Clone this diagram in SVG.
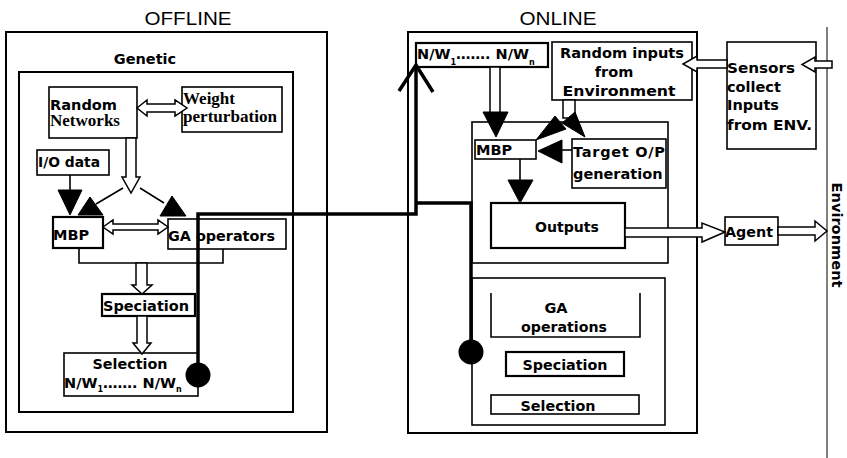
<svg xmlns="http://www.w3.org/2000/svg" width="847" height="458" viewBox="0 0 847 458">
<style>
.box{fill:#fff;stroke:#000;stroke-width:1.6}
.bx2{fill:#fff;stroke:#000;stroke-width:2.2}
.frame{fill:none;stroke:#000;stroke-width:2}
.t{font-family:"DejaVu Sans",Verdana,sans-serif;font-weight:bold;font-size:14.5px;fill:#000}
.tc{text-anchor:middle}
.ser{font-family:"Liberation Serif","Times New Roman",serif;font-weight:bold;font-size:16px;fill:#000}
.title{font-family:"Liberation Sans",Arial,sans-serif;font-size:19px;fill:#000;text-anchor:middle}
.sub{font-size:8px}
.hollow{fill:#fff;stroke:#000;stroke-width:1.5;stroke-linejoin:miter}
.blk{fill:#000;stroke:#000;stroke-width:1}
.ln{fill:none;stroke:#000;stroke-width:1.6}
.thick{fill:none;stroke:#000;stroke-width:3.5}
</style>
<text class="title" x="188" y="25" textLength="87" lengthAdjust="spacingAndGlyphs">OFFLINE</text>
<text class="title" x="558" y="25" textLength="77" lengthAdjust="spacingAndGlyphs">ONLINE</text>

<g id="offline">
<rect class="frame" x="6" y="32" width="321" height="400"/>
</g>
<g id="genetic">
<rect class="frame" x="19" y="72" width="274" height="340"/>
<text class="t tc" x="145" y="64">Genetic</text>
</g>
<g id="random-networks">
<rect class="box" x="49" y="87" width="88" height="51"/>
<text class="t" x="50" y="110" textLength="67" lengthAdjust="spacingAndGlyphs">Random</text>
<text class="ser" x="50" y="126" textLength="70" lengthAdjust="spacingAndGlyphs">Networks</text>
</g>
<g id="weight-perturbation">
<rect class="box" x="182" y="87" width="100" height="45"/>
<text class="ser" x="183" y="104" textLength="52" lengthAdjust="spacingAndGlyphs">Weight</text>
<text class="ser" x="183" y="122" textLength="94" lengthAdjust="spacingAndGlyphs">perturbation</text>
</g>
<g id="io-data">
<rect class="box" x="37" y="150" width="72" height="25"/>
<text class="t" x="38" y="167" textLength="62" lengthAdjust="spacingAndGlyphs">I/O data</text>
</g>
<g id="mbp-offline">
<rect class="bx2" x="53" y="217" width="50" height="31"/>
<text class="t" x="53" y="240">MBP</text>
</g>
<g id="ga-operators">
<rect class="box" x="168" y="219" width="118" height="30"/>
<text class="t" x="168" y="241" textLength="107" lengthAdjust="spacingAndGlyphs">GA operators</text>
</g>
<g id="speciation-offline">
<rect class="bx2" x="102" y="294" width="93" height="22"/>
<text class="t" x="103" y="311" textLength="86" lengthAdjust="spacingAndGlyphs">Speciation</text>
</g>
<g id="selection-offline">
<rect class="box" x="64" y="353" width="134" height="43"/>
<text class="t tc" x="130" y="369" textLength="75" lengthAdjust="spacingAndGlyphs">Selection</text>
<text class="t" x="64" y="388">N/W<tspan class="sub" dy="4">1</tspan><tspan dy="-4">……. N/W</tspan><tspan class="sub" dy="4">n</tspan></text>
</g>

<g id="online">
<rect class="frame" x="408" y="32" width="289" height="401"/>
</g>
<g id="online-upper">
<rect class="box" x="472" y="122" width="196" height="141"/>
</g>
<g id="online-lower">
<rect class="box" x="472" y="278" width="193" height="147"/>
</g>
<g id="nw-online">
<rect class="bx2" x="416" y="43" width="132" height="24"/>
<text class="t" x="417" y="59">N/W<tspan class="sub" dy="6">1</tspan><tspan dy="-6">……. N/W</tspan><tspan class="sub" dy="6">n</tspan></text>
</g>
<g id="random-inputs">
<rect class="box" x="552" y="42" width="140" height="58"/>
<text class="t tc" x="622" y="58" textLength="124" lengthAdjust="spacingAndGlyphs">Random inputs</text>
<text class="t tc" x="614" y="77">from</text>
<text class="t tc" x="619" y="96" textLength="113" lengthAdjust="spacingAndGlyphs">Environment</text>
</g>
<g id="mbp-online">
<rect class="box" x="475" y="140" width="61" height="19"/>
<text class="t" x="476" y="155">MBP</text>
</g>
<g id="target">
<rect class="box" x="572" y="139" width="94" height="49"/>
<text class="t" x="573" y="157" textLength="92" lengthAdjust="spacing">Target O/P</text>
<text class="t" x="573" y="179">generation</text>
</g>
<g id="outputs">
<rect class="bx2" x="491" y="203" width="134" height="45"/>
<text class="t tc" x="567" y="232" textLength="64" lengthAdjust="spacingAndGlyphs">Outputs</text>
</g>
<g id="ga-operations">
<polyline class="ln" points="491,293 491,337 640,337 640,293"/>
<text class="t tc" x="556" y="313">GA</text>
<text class="t tc" x="564" y="332" textLength="86" lengthAdjust="spacingAndGlyphs">operations</text>
</g>
<g id="speciation-online">
<rect class="bx2" x="506" y="352" width="118" height="24"/>
<text class="t tc" x="565" y="370" textLength="85" lengthAdjust="spacingAndGlyphs">Speciation</text>
</g>
<g id="selection-online">
<rect class="box" x="491" y="395" width="148" height="19"/>
<text class="t tc" x="558" y="411" textLength="75" lengthAdjust="spacingAndGlyphs">Selection</text>
</g>
<g id="sensors">
<rect class="box" x="727" y="42" width="89" height="107"/>
<text class="t" x="727" y="73" textLength="68" lengthAdjust="spacingAndGlyphs">Sensors</text>
<text class="t" x="727" y="92">collect</text>
<text class="t" x="727" y="110">Inputs</text>
<text class="t" x="727" y="130" textLength="85" lengthAdjust="spacingAndGlyphs">from ENV.</text>
</g>
<g id="agent">
<rect class="box" x="725" y="217" width="53" height="28"/>
<text class="t" x="725" y="237" textLength="48" lengthAdjust="spacingAndGlyphs">Agent</text>
</g>
<g id="environment">
<line x1="827" y1="27" x2="827" y2="458" stroke="#555" stroke-width="1.5"/>
<text class="t tc" transform="translate(832,235) rotate(90)" x="0" y="0" font-size="13.5" textLength="105" lengthAdjust="spacingAndGlyphs">Environment</text>
</g>

<g id="connectors">
<polygon class="hollow" points="137,108 147,100 147,104 175,104 175,100 187,108 175,116 175,112 147,112 147,116"/>
<polygon class="hollow" points="126,138 136,138 136,177 140,177 131,193 122,177 126,177"/>
<line class="ln" x1="70" y1="175" x2="70" y2="191"/>
<polygon class="blk" points="58,190 82,190 70,215"/>
<line class="ln" x1="123" y1="188" x2="96" y2="204" stroke-width="2.5"/>
<polygon class="blk" points="90,197 103,215 78,215"/>
<line class="ln" x1="140" y1="188" x2="164" y2="203" stroke-width="2.5"/>
<polygon class="blk" points="172,196 186,216 160,216"/>
<polygon class="hollow" points="103,227 113,220 113,224 158,224 158,220 168,227 158,234 158,230 113,230 113,234" stroke-width="1.2"/>
<polyline class="ln" points="79,248 79,263 223,263 223,249"/>
<polygon class="hollow" points="136,263 147,263 147,285 152,285 142,294 132,285 136,285"/>
<polygon class="hollow" points="137,316 147,316 147,343 151,343 142,354 133,343 137,343"/>
<polyline class="thick" points="198,375 198,214 416,214 416,67"/>
<polyline class="thick" points="399,91 416,65 433,92" stroke-width="4.5"/>
<polyline class="thick" points="416,203 471,203 471,352"/>
<circle cx="198" cy="375" r="12.5" fill="#000"/>
<circle cx="471" cy="352" r="12.5" fill="#000"/>
<polygon class="hollow" points="490,67 500,67 500,113 490,113"/>
<polygon class="blk" points="483,112 508,112 496,137"/>
<polygon class="hollow" points="563,100 575,100 575,118 563,118"/>
<polygon class="blk" points="536,140 555,116 566,129"/>
<polygon class="blk" points="585,137 562,123 575,112"/>
<line class="ln" x1="562" y1="150" x2="572" y2="150"/>
<polygon class="blk" points="538,151 562,140 562,163"/>
<line class="ln" x1="520" y1="159" x2="520" y2="181"/>
<polygon class="blk" points="508,180 533,180 520,203"/>
<polygon class="hollow" points="625,228 702,228 702,223 725,232 702,242 702,237 625,237"/>
<polygon class="hollow" points="778,227 815,227 815,221 827,231 815,241 815,235 778,235"/>
<polygon class="hollow" points="832,61 815,61 815,57 802,64.5 815,72 815,68 832,68"/>
<polygon class="hollow" points="727,60 697,60 697,56 683,64 697,72 697,68 727,68"/>
</g>
</svg>
